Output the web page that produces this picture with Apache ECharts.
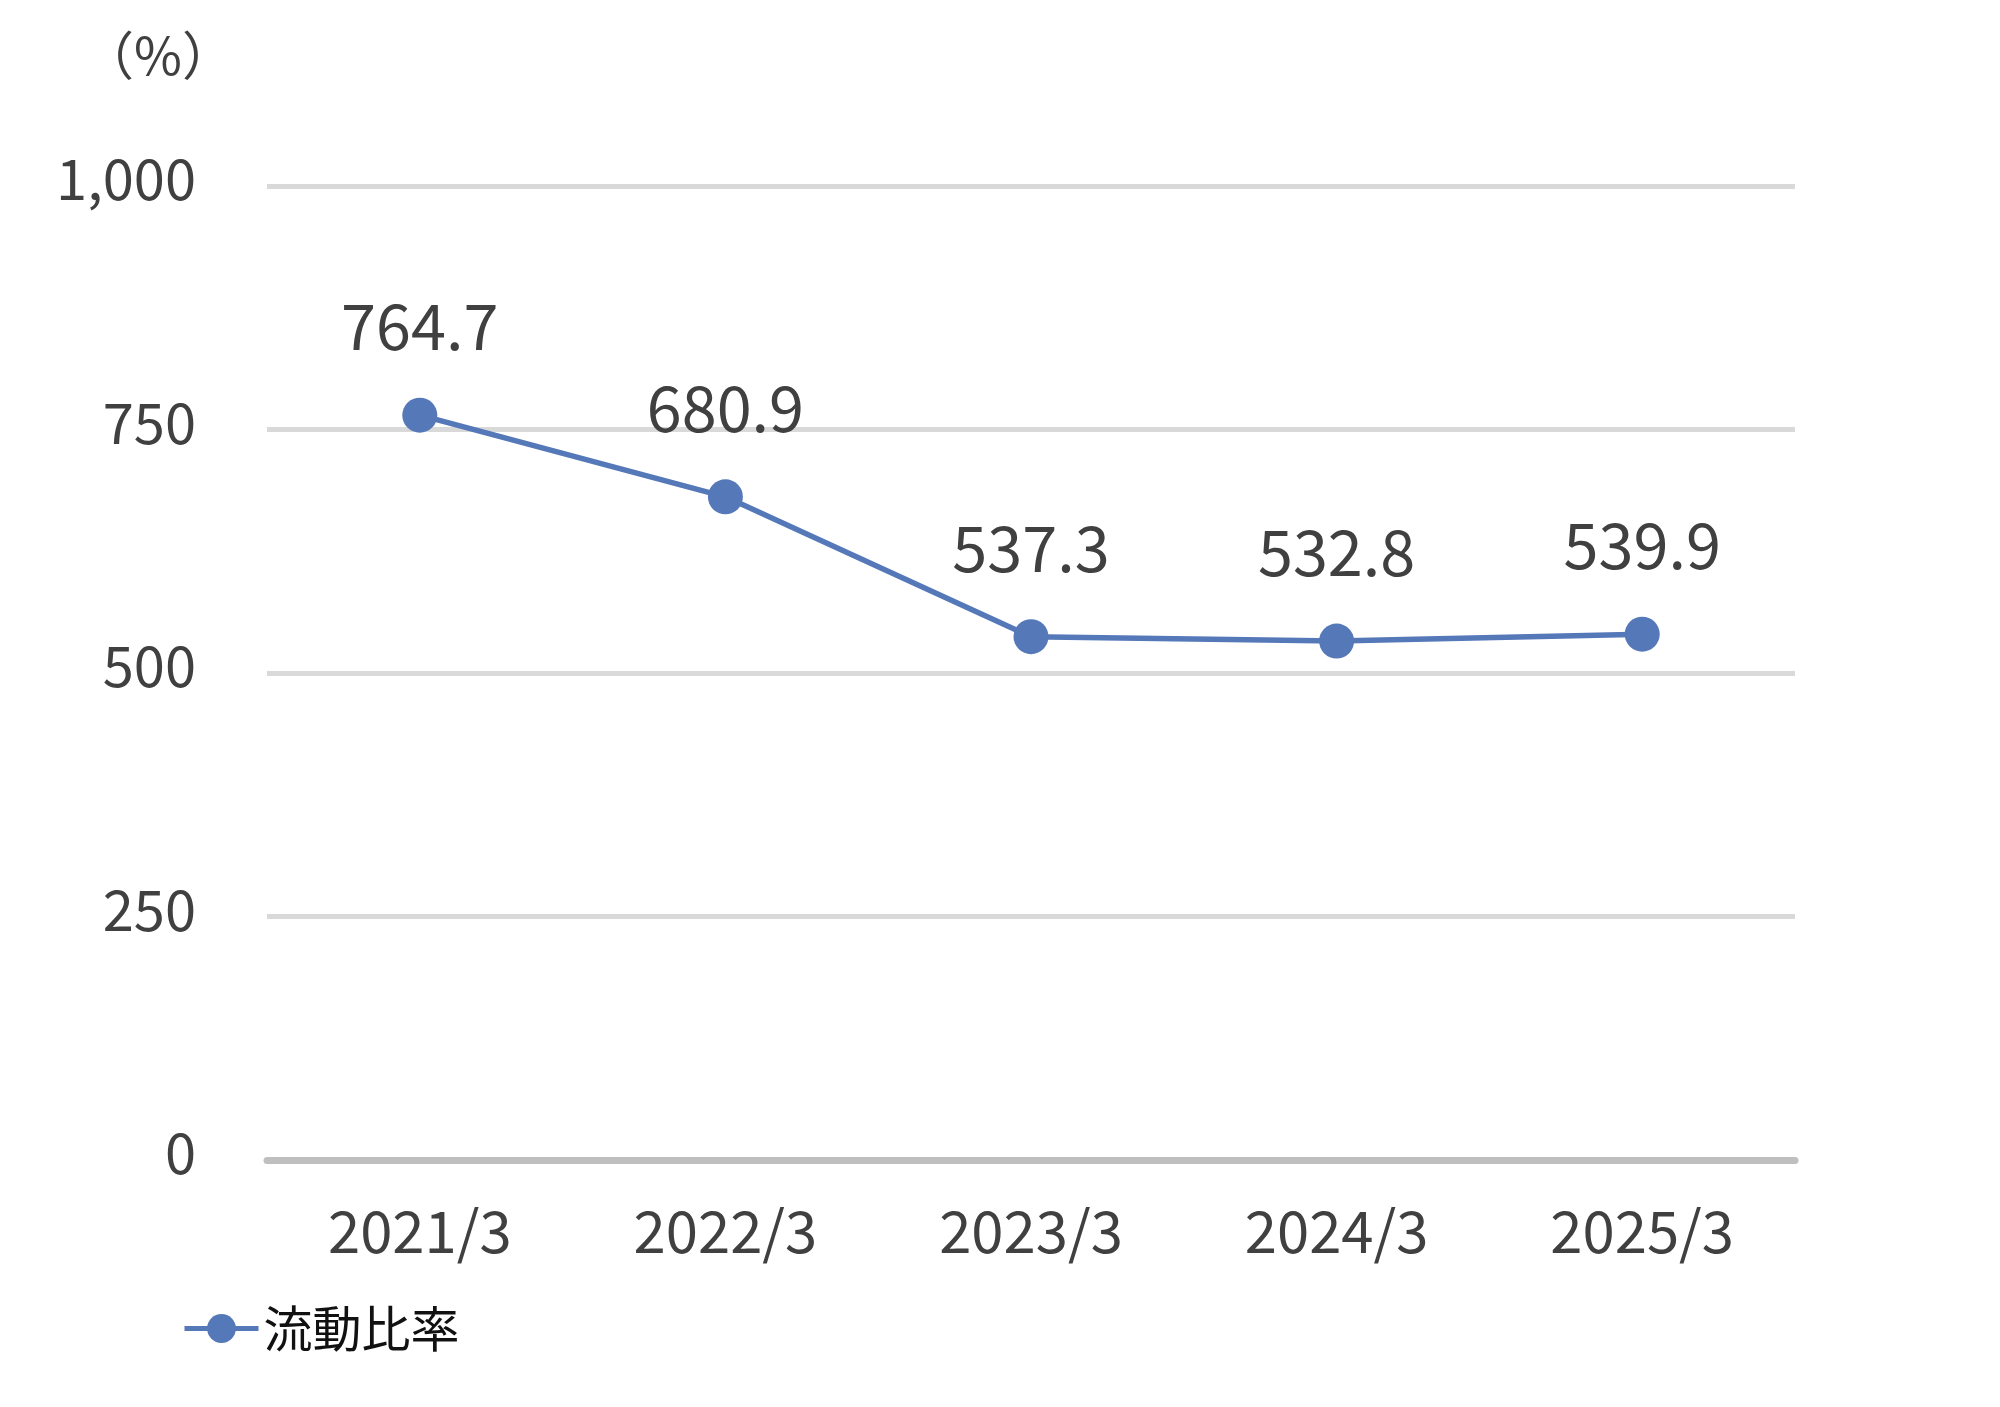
<!DOCTYPE html>
<html>
<head>
<meta charset="utf-8">
<title>流動比率</title>
<script src="https://cdn.jsdelivr.net/npm/echarts@6/dist/echarts.min.js"></script>
<style>
  html, body { margin: 0; padding: 0; background: #fff; }
  #main { width: 2000px; height: 1407px; }
</style>
</head>
<body>
<div id="main"></div>
<script>
const categories = ['2021/3', '2022/3', '2023/3', '2024/3', '2025/3']
const ratioValues = [764.7, 680.9, 537.3, 532.8, 539.9]
const seriesName = '流動比率'
const unitLabel = '（%）'
const yMin = 0
const yMax = 1000
const yStep = 250

const font = '"Noto Sans CJK JP", "Noto Sans", sans-serif'
const blue = '#5578B9'

function addCommas(v) {
    return String(v).replace(/\B(?=(\d{3})+(?!\d))/g, ',')
}

const chart = echarts.init(document.getElementById('main'))

const option = {
    backgroundColor: '#fff',
    animation: false,
    textStyle: { fontFamily: font },
    title: {
        text: unitLabel,
        left: 77,
        top: 24,
        textStyle: { fontFamily: font, fontSize: 52, fontWeight: 'normal', color: '#404040' }
    },
    legend: {
        left: 177,
        top: 1299,
        itemWidth: 74,
        itemHeight: 36,
        lineStyle: { width: 5 },
        textStyle: { fontFamily: font, fontSize: 49, color: '#111' },
        data: [seriesName]
    },
    grid: {
        left: 267,
        right: 205,
        top: 186,
        bottom: 247,
        containLabel: false
    },
    xAxis: {
        type: 'category',
        data: categories,
        boundaryGap: true,
        axisTick: { show: false },
        axisLine: { lineStyle: { color: '#bfbfbf', width: 7 } },
        axisLabel: { fontFamily: font, fontSize: 58, color: '#404040', margin: 42 }
    },
    yAxis: {
        type: 'value',
        min: yMin,
        max: yMax,
        interval: yStep,
        axisLine: { show: false },
        axisTick: { show: false },
        splitLine: { lineStyle: { color: '#d9d9d9', width: 5 } },
        axisLabel: {
            fontFamily: font,
            fontSize: 56,
            color: '#404040',
            margin: 71,
            verticalAlign: 'bottom',
            lineHeight: 14,
            formatter: function (v) { return addCommas(v) }
        }
    },
    series: [
        {
            name: seriesName,
            type: 'line',
            data: ratioValues,
            symbol: 'circle',
            symbolSize: 35,
            lineStyle: { color: blue, width: 5.5 },
            itemStyle: { color: blue },
            label: {
                show: true,
                position: 'top',
                distance: 40,
                fontFamily: font,
                fontSize: 63,
                color: '#404040',
                formatter: function (p) { return p.value.toFixed(1) }
            }
        }
    ]
}

chart.setOption(option)
</script>
</body>
</html>
